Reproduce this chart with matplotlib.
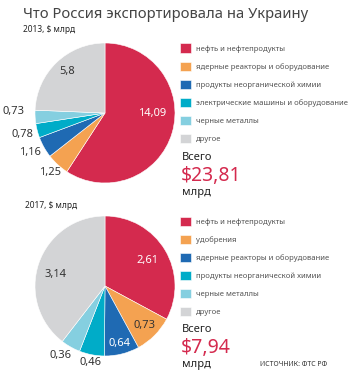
import matplotlib
matplotlib.use("Agg")
import matplotlib.pyplot as plt
import numpy as np

plt.rcParams['font.family'] = ['Noto Sans', 'DejaVu Sans']

title = "Что Россия экспортировала на Украину"
source = "ИСТОЧНИК: ФТС РФ"

cats_2013 = ["нефть и нефтепродукты", "ядерные реакторы и оборудование",
             "продукты неорганической химии", "электрические машины и оборудование",
             "черные металлы", "другое"]
vals_2013 = [14.09, 1.25, 1.16, 0.78, 0.73, 5.8]
total_2013 = "$23,81"

cats_2017 = ["нефть и нефтепродукты", "удобрения", "ядерные реакторы и оборудование",
             "продукты неорганической химии", "черные металлы", "другое"]
vals_2017 = [2.61, 0.73, 0.64, 0.46, 0.36, 3.14]
total_2017 = "$7,94"

colors = ["#d42a4e", "#f4a251", "#1f6ab3", "#00acc8", "#85cfe0", "#d3d4d6"]

W, H = 353, 380
fig = plt.figure(figsize=(W / 100, H / 100), dpi=100)
fig.patch.set_facecolor("white")

def fx(x):
    return x / W

def fy(y):
    return 1 - y / H

# layout for labels (radius factor, angle nudge, text colour)
lay_2013 = [(0.67, 16.5, "white"), (1.16, 0, "#333333"), (1.21, -1.5, "#333333"),
            (1.22, 0, "#333333"), (1.31, -4, "#333333"), (0.8, -1, "#333333")]
lay_2017 = [(0.71, 0, "white"), (0.8, 0, "#333333"), (0.84, 0, "white"),
            (1.12, 0, "#333333"), (1.18, -3, "#333333"), (0.73, 6, "#333333")]

def draw_pie(cx, cy, r, vals, cats, lay, legend_top, total_y, total):
    ax = fig.add_axes([fx(cx - r), fy(cy + r), 2 * r / W, 2 * r / H])
    wedges, _ = ax.pie(vals, colors=colors, startangle=90, counterclock=False,
                       radius=1, wedgeprops=dict(linewidth=0.4, edgecolor="white"))
    ax.set_xlim(-1, 1)
    ax.set_ylim(-1, 1)
    ax.set_aspect("auto")
    ax.axis("off")
    for w, v, (rf, nud, col) in zip(wedges, vals, lay):
        ang = np.deg2rad((w.theta1 + w.theta2) / 2 + nud)
        ax.text(rf * np.cos(ang), rf * np.sin(ang), f"{v:g}".replace(".", ","),
                ha="center", va="center", fontsize=8, color=col, clip_on=False)
    fig.legend(wedges, cats, loc="upper left",
               bbox_to_anchor=(fx(180), fy(legend_top)), frameon=False,
               fontsize=5.5, handlelength=1.45, handleheight=1.45,
               handletextpad=0.6, labelspacing=1.18, borderpad=0,
               borderaxespad=0, labelcolor="#555555")
    fig.text(fx(182), fy(total_y), "Всего", fontsize=8, color="#222222",
             ha="left", va="center")
    fig.text(fx(181), fy(total_y + 18), total, fontsize=14, color="#d42a4e",
             ha="left", va="center")
    fig.text(fx(182), fy(total_y + 35), "млрд", fontsize=8, color="#222222",
             ha="left", va="center")

fig.text(fx(23), fy(15), title, fontsize=10.6, color="#444444", ha="left",
         va="center", fontweight="light")
fig.text(fx(23), fy(30), "2013, $ млрд", fontsize=6, color="#222222",
         ha="left", va="center", fontweight="bold")
fig.text(fx(25), fy(205), "2017, $ млрд", fontsize=6, color="#222222",
         ha="left", va="center", fontweight="bold")

draw_pie(105, 113, 70, vals_2013, cats_2013, lay_2013, 43.5, 158, total_2013)
draw_pie(105, 286, 70, vals_2017, cats_2017, lay_2017, 216.5, 330, total_2017)

fig.text(fx(260), fy(365), source, fontsize=5, color="#333333",
         ha="left", va="center")

fig.savefig("out.png", dpi=100)
